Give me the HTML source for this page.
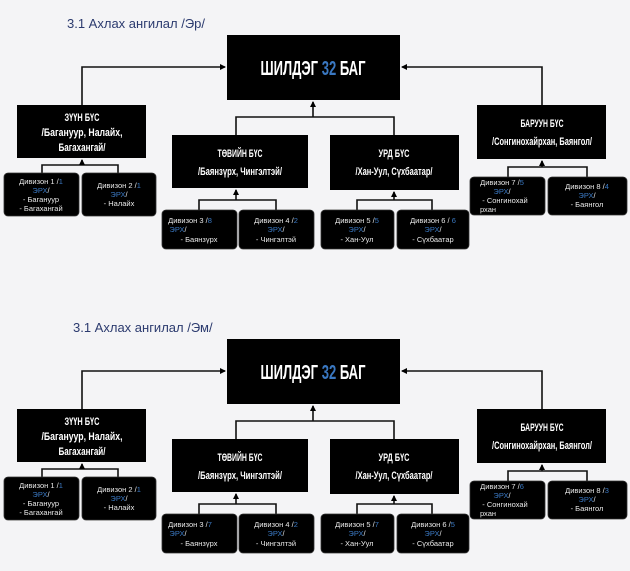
<!DOCTYPE html>
<html><head><meta charset="utf-8"><style>
html,body{margin:0;padding:0;background:#f4f4f6;}
svg{display:block;}
.t{font-family:"Liberation Sans",sans-serif;fill:#2b3a6e;font-size:13px;}
.h{font-family:"Liberation Sans",sans-serif;font-weight:bold;fill:#fff;font-size:11px;text-anchor:middle;}
.big{font-family:"Liberation Sans",sans-serif;font-weight:bold;fill:#fff;font-size:20px;}
.d{font-family:"Liberation Sans",sans-serif;fill:#e8e8e8;font-size:7.5px;text-anchor:middle;}
.b{fill:#3a78c2;}
.ln{stroke:#111;stroke-width:1.6;fill:none;}
.bx{fill:#000;}
.db{fill:#000;stroke:#333;stroke-width:0.8;}
</style></head><body>
<svg width="630" height="571" viewBox="0 0 630 571" xmlns="http://www.w3.org/2000/svg">
<defs>
<marker id="a" markerWidth="6" markerHeight="6" refX="5" refY="3" orient="auto" markerUnits="userSpaceOnUse"><path d="M0,0 L6,3 L0,6z" fill="#000"/></marker>
</defs>
<g id="top">
<text class="t" x="67" y="28">3.1 Ахлах ангилал /Эр/</text>
<rect class="bx" x="227" y="35" width="173" height="65"/>
<text class="big" x="313" y="75" text-anchor="middle" textLength="105" lengthAdjust="spacingAndGlyphs">ШИЛДЭГ <tspan class="b">32</tspan> БАГ</text>
<path class="ln" d="M82,105 V67 H225" marker-end="url(#a)"/>
<path class="ln" d="M542,105 V67 H402" marker-end="url(#a)"/>
<path class="ln" d="M236,135 V117 H394 V135 M313,117 V102" marker-end="url(#a)"/>
<rect class="bx" x="17" y="105" width="129" height="53"/>
<text class="h" x="82" y="121" textLength="35" lengthAdjust="spacingAndGlyphs">ЗҮҮН БҮС</text>
<text class="h" x="82" y="136" textLength="81" lengthAdjust="spacingAndGlyphs">/Багануур, Налайх,</text>
<text class="h" x="82" y="151" textLength="47" lengthAdjust="spacingAndGlyphs">Багахангай/</text>
<path class="ln" d="M42,173 V165 H118 V173 M82,165 V160" marker-end="url(#a)"/>
<rect class="db" x="4" y="173" width="75" height="43" rx="4"/>
<text class="d" x="41" y="184">Дивизон 1 /<tspan class="b">1</tspan></text>
<text class="d" x="41" y="193"><tspan class="b">ЭРХ</tspan>/</text>
<text class="d" x="41" y="202">-  Багануур</text>
<text class="d" x="41" y="211">-  Багахангай</text>
<rect class="db" x="82" y="173" width="74" height="43" rx="4"/>
<text class="d" x="119" y="188">Дивизон 2 /<tspan class="b">1</tspan></text>
<text class="d" x="119" y="197"><tspan class="b">ЭРХ</tspan>/</text>
<text class="d" x="119" y="206">-  Налайх</text>
<rect class="bx" x="172" y="135" width="136" height="53"/>
<text class="h" x="240" y="157" textLength="45" lengthAdjust="spacingAndGlyphs">ТӨВИЙН БҮС</text>
<text class="h" x="240" y="175" textLength="84" lengthAdjust="spacingAndGlyphs">/Баянзүрх, Чингэлтэй/</text>
<path class="ln" d="M199,210 V200 H276 V210 M236,200 V190" marker-end="url(#a)"/>
<rect class="db" x="162" y="210" width="75" height="39" rx="4"/>
<text class="d" x="190" y="223">Дивизон 3 /<tspan class="b">8</tspan></text>
<text class="d" x="178" y="232"><tspan class="b">ЭРХ</tspan>/</text>
<text class="d" x="199" y="242">-  Баянзүрх</text>
<rect class="db" x="239" y="210" width="75" height="39" rx="4"/>
<text class="d" x="276" y="223">Дивизон 4 /<tspan class="b">2</tspan></text>
<text class="d" x="276" y="232"><tspan class="b">ЭРХ</tspan>/</text>
<text class="d" x="276" y="242">-  Чингэлтэй</text>
<rect class="bx" x="330" y="135" width="129" height="55"/>
<text class="h" x="394" y="157" textLength="31" lengthAdjust="spacingAndGlyphs">УРД БҮС</text>
<text class="h" x="394" y="175" textLength="77" lengthAdjust="spacingAndGlyphs">/Хан-Уул, Сүхбаатар/</text>
<path class="ln" d="M357,210 V200 H432 V210 M394,200 V192" marker-end="url(#a)"/>
<rect class="db" x="321" y="210" width="73" height="39" rx="4"/>
<text class="d" x="357" y="223">Дивизон 5 /<tspan class="b">5</tspan></text>
<text class="d" x="357" y="232"><tspan class="b">ЭРХ</tspan>/</text>
<text class="d" x="357" y="242">-  Хан-Уул</text>
<rect class="db" x="397" y="210" width="72" height="39" rx="4"/>
<text class="d" x="433" y="223">Дивизон 6 / <tspan class="b">6</tspan></text>
<text class="d" x="433" y="232"><tspan class="b">ЭРХ</tspan>/</text>
<text class="d" x="433" y="242">-  Сүхбаатар</text>
<rect class="bx" x="477" y="105" width="129" height="54"/>
<text class="h" x="542" y="127" textLength="43" lengthAdjust="spacingAndGlyphs">БАРУУН БҮС</text>
<text class="h" x="542" y="145" textLength="100" lengthAdjust="spacingAndGlyphs">/Сонгинохайрхан, Баянгол/</text>
<path class="ln" d="M508,177 V167 H587 V177 M542,167 V161" marker-end="url(#a)"/>
<rect class="db" x="470" y="177" width="75" height="38" rx="4"/>
<text class="d" x="502" y="185">Дивизон 7 /<tspan class="b">5</tspan></text>
<text class="d" x="502" y="194"><tspan class="b">ЭРХ</tspan>/</text>
<text class="d" x="505" y="203">-  Сонгинохай</text>
<text class="d" x="488" y="212">рхан</text>
<rect class="db" x="548" y="177" width="79" height="38" rx="4"/>
<text class="d" x="587" y="189">Дивизон 8 /<tspan class="b">4</tspan></text>
<text class="d" x="587" y="198"><tspan class="b">ЭРХ</tspan>/</text>
<text class="d" x="587" y="207">-  Баянгол</text>
</g>
<g transform="translate(0,304)">
<text class="t" x="73" y="28">3.1 Ахлах ангилал /Эм/</text>
<rect class="bx" x="227" y="35" width="173" height="65"/>
<text class="big" x="313" y="75" text-anchor="middle" textLength="105" lengthAdjust="spacingAndGlyphs">ШИЛДЭГ <tspan class="b">32</tspan> БАГ</text>
<path class="ln" d="M82,105 V67 H225" marker-end="url(#a)"/>
<path class="ln" d="M542,105 V67 H402" marker-end="url(#a)"/>
<path class="ln" d="M236,135 V117 H394 V135 M313,117 V102" marker-end="url(#a)"/>
<rect class="bx" x="17" y="105" width="129" height="53"/>
<text class="h" x="82" y="121" textLength="35" lengthAdjust="spacingAndGlyphs">ЗҮҮН БҮС</text>
<text class="h" x="82" y="136" textLength="81" lengthAdjust="spacingAndGlyphs">/Багануур, Налайх,</text>
<text class="h" x="82" y="151" textLength="47" lengthAdjust="spacingAndGlyphs">Багахангай/</text>
<path class="ln" d="M42,173 V165 H118 V173 M82,165 V160" marker-end="url(#a)"/>
<rect class="db" x="4" y="173" width="75" height="43" rx="4"/>
<text class="d" x="41" y="184">Дивизон 1 /<tspan class="b">1</tspan></text>
<text class="d" x="41" y="193"><tspan class="b">ЭРХ</tspan>/</text>
<text class="d" x="41" y="202">-  Багануур</text>
<text class="d" x="41" y="211">-  Багахангай</text>
<rect class="db" x="82" y="173" width="74" height="43" rx="4"/>
<text class="d" x="119" y="188">Дивизон 2 /<tspan class="b">1</tspan></text>
<text class="d" x="119" y="197"><tspan class="b">ЭРХ</tspan>/</text>
<text class="d" x="119" y="206">-  Налайх</text>
<rect class="bx" x="172" y="135" width="136" height="53"/>
<text class="h" x="240" y="157" textLength="45" lengthAdjust="spacingAndGlyphs">ТӨВИЙН БҮС</text>
<text class="h" x="240" y="175" textLength="84" lengthAdjust="spacingAndGlyphs">/Баянзүрх, Чингэлтэй/</text>
<path class="ln" d="M199,210 V200 H276 V210 M236,200 V190" marker-end="url(#a)"/>
<rect class="db" x="162" y="210" width="75" height="39" rx="4"/>
<text class="d" x="190" y="223">Дивизон 3 /<tspan class="b">7</tspan></text>
<text class="d" x="178" y="232"><tspan class="b">ЭРХ</tspan>/</text>
<text class="d" x="199" y="242">-  Баянзүрх</text>
<rect class="db" x="239" y="210" width="75" height="39" rx="4"/>
<text class="d" x="276" y="223">Дивизон 4 /<tspan class="b">2</tspan></text>
<text class="d" x="276" y="232"><tspan class="b">ЭРХ</tspan>/</text>
<text class="d" x="276" y="242">-  Чингэлтэй</text>
<rect class="bx" x="330" y="135" width="129" height="55"/>
<text class="h" x="394" y="157" textLength="31" lengthAdjust="spacingAndGlyphs">УРД БҮС</text>
<text class="h" x="394" y="175" textLength="77" lengthAdjust="spacingAndGlyphs">/Хан-Уул, Сүхбаатар/</text>
<path class="ln" d="M357,210 V200 H432 V210 M394,200 V192" marker-end="url(#a)"/>
<rect class="db" x="321" y="210" width="73" height="39" rx="4"/>
<text class="d" x="357" y="223">Дивизон 5 /<tspan class="b">7</tspan></text>
<text class="d" x="357" y="232"><tspan class="b">ЭРХ</tspan>/</text>
<text class="d" x="357" y="242">-  Хан-Уул</text>
<rect class="db" x="397" y="210" width="72" height="39" rx="4"/>
<text class="d" x="433" y="223">Дивизон 6 /<tspan class="b">5</tspan></text>
<text class="d" x="433" y="232"><tspan class="b">ЭРХ</tspan>/</text>
<text class="d" x="433" y="242">-  Сүхбаатар</text>
<rect class="bx" x="477" y="105" width="129" height="54"/>
<text class="h" x="542" y="127" textLength="43" lengthAdjust="spacingAndGlyphs">БАРУУН БҮС</text>
<text class="h" x="542" y="145" textLength="100" lengthAdjust="spacingAndGlyphs">/Сонгинохайрхан, Баянгол/</text>
<path class="ln" d="M508,177 V167 H587 V177 M542,167 V161" marker-end="url(#a)"/>
<rect class="db" x="470" y="177" width="75" height="38" rx="4"/>
<text class="d" x="502" y="185">Дивизон 7 /<tspan class="b">6</tspan></text>
<text class="d" x="502" y="194"><tspan class="b">ЭРХ</tspan>/</text>
<text class="d" x="505" y="203">-  Сонгинохай</text>
<text class="d" x="488" y="212">рхан</text>
<rect class="db" x="548" y="177" width="79" height="38" rx="4"/>
<text class="d" x="587" y="189">Дивизон 8 /<tspan class="b">3</tspan></text>
<text class="d" x="587" y="198"><tspan class="b">ЭРХ</tspan>/</text>
<text class="d" x="587" y="207">-  Баянгол</text>
</g>
</svg>
</body></html>
